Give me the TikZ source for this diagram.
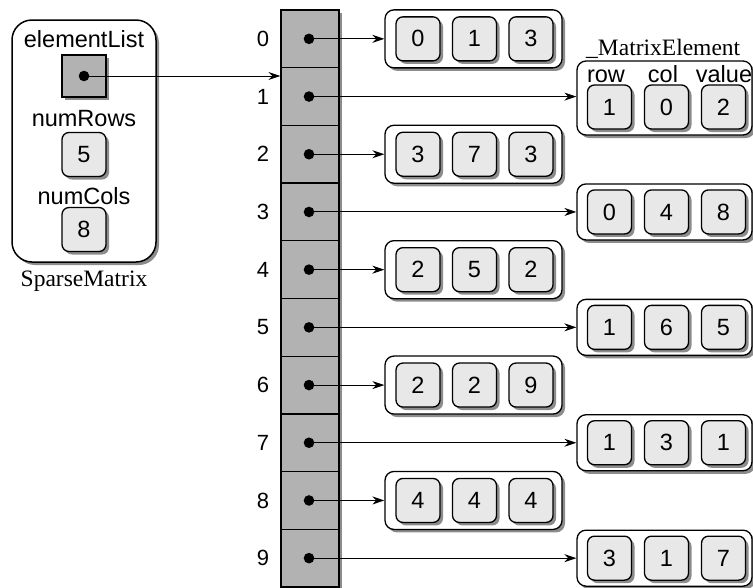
\documentclass[tikz,border=0pt]{standalone}
\usepackage{fontspec}
\setmainfont{Liberation Serif}
\setsansfont{Liberation Sans}
\usetikzlibrary{shadows,arrows.meta}
\definecolor{cellgray}{gray}{0.70}
\definecolor{boxgray}{gray}{0.91}
\definecolor{shgray}{gray}{0.55}
\tikzset{
  shad/.style={drop shadow={shadow xshift=3pt,shadow yshift=-3pt,fill=shgray,opacity=1}},
  cellbox/.style={draw,line width=1.3pt,fill=cellgray,minimum width=58pt,minimum height=57.7pt,inner sep=0pt,shad},
  ptrbox/.style={draw,line width=1.3pt,fill=cellgray,minimum width=44pt,minimum height=42pt,inner sep=0pt,shad},
  valbox/.style={draw,line width=1.3pt,fill=boxgray,rounded corners=7pt,minimum width=44pt,minimum height=44pt,inner sep=0pt,shad,font=\fontsize{23.5}{28}\sffamily\selectfont},
  elembox/.style={draw,line width=1.3pt,fill=white,rounded corners=9pt,inner sep=0pt,shad},
  structbox/.style={draw,line width=1.5pt,fill=white,rounded corners=20pt,inner sep=0pt,shad},
  sanslbl/.style={font=\fontsize{23.5}{28}\sffamily\selectfont,inner sep=0pt,anchor=base},
  idxlbl/.style={font=\fontsize{22}{26}\sffamily\selectfont,inner sep=0pt},
  seriflbl/.style={font=\fontsize{23.5}{28}\rmfamily\selectfont,inner sep=0pt},
  ptr/.style={line width=1pt,-{Stealth[length=12pt,width=8pt]}},
  dot/.style={circle,fill=black,inner sep=0pt,minimum size=10.6pt}
}
\begin{document}
\begin{tikzpicture}[x=1pt,y=-1pt]
\clip (0,0) rectangle (753,587);
\fill[white] (0,0) rectangle (753,587);

% SparseMatrix structure
\node[structbox,minimum width=144pt,minimum height=242pt] (sm) at (84,141) {};
\node[sanslbl] (lel) at (84,47) {elementList};
\node[ptrbox] (pel) at (84,76) {};
\node[dot] (del) at (84,76) {};
\node[sanslbl] (lnr) at (84,126) {numRows};
\node[valbox] (vnr) at (84,154.5) {5};
\node[sanslbl] (lnc) at (84,204) {numCols};
\node[valbox] (vnc) at (84,229.5) {8};
\node[seriflbl,anchor=base] (smlbl) at (84,286) {SparseMatrix};

% array cells
\foreach \i in {0,...,9} {
  \pgfmathsetmacro{\cy}{10+57.7*(\i+0.5)}
  \node[cellbox] (c\i) at (310,\cy) {};
  \node[idxlbl] (n\i) at (263,\cy) {\i};
  \node[dot] (d\i) at (309,\cy) {};
}

% element list pointer
\draw[ptr] (del.center) -- (del.center -| c1.west);

% even rows: elements on the left column
\foreach \i/\a/\b/\c in {0/0/1/3,2/3/7/3,4/2/5/2,6/2/2/9,8/4/4/4} {
  \pgfmathsetmacro{\cy}{10+57.7*(\i+0.5)}
  \node[elembox,minimum width=177pt,minimum height=58pt] (o\i) at (473.5,\cy) {};
  \node[valbox] (e\i a) at (418,\cy) {\a};
  \node[valbox] (e\i b) at (474.5,\cy) {\b};
  \node[valbox] (e\i c) at (531,\cy) {\c};
  \draw[ptr] (d\i.center) -- (d\i.center -| o\i.west);
}

% odd rows 3,5,7,9
\foreach \i/\a/\b/\c in {3/0/4/8,5/1/6/5,7/1/3/1,9/3/1/7} {
  \pgfmathsetmacro{\cy}{10+57.7*(\i+0.5)}
  \node[elembox,minimum width=175pt,minimum height=56pt] (o\i) at (664.5,\cy) {};
  \node[valbox] (e\i a) at (609.5,\cy) {\a};
  \node[valbox] (e\i b) at (666.5,\cy) {\b};
  \node[valbox] (e\i c) at (723.5,\cy) {\c};
  \draw[ptr] (d\i.center) -- (d\i.center -| o\i.west);
}

% row 1 with field labels
\node[elembox,minimum width=175pt,minimum height=74pt] (o1) at (664.5,98) {};
\node[valbox] (e1a) at (609.5,107) {1};
\node[valbox] (e1b) at (666.5,107) {0};
\node[valbox] (e1c) at (723.5,107) {2};
\node[sanslbl] (frow) at (606,82.5) {row};
\node[sanslbl] (fcol) at (663,82.5) {col};
\node[sanslbl] (fval) at (724,82.5) {value};
\node[seriflbl,anchor=base west] (melbl) at (586,55) {\_MatrixElement};
\draw[ptr] (d1.center) -- (d1.center -| o1.west);
\end{tikzpicture}
\end{document}
